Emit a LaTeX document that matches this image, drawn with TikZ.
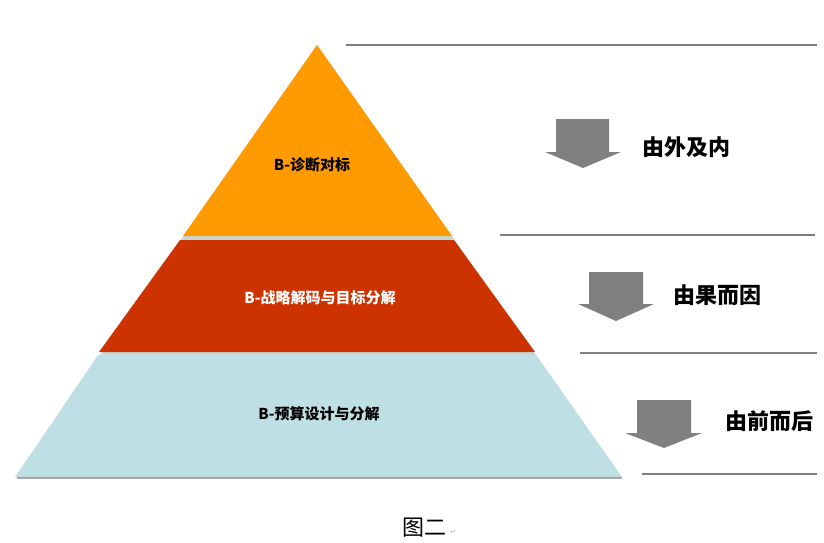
\documentclass[tikz,border=0pt]{standalone}
\usepackage{fontspec}
\newfontfamily\cjk{Noto Sans CJK SC}
\newfontfamily\symf{DejaVu Sans}
\definecolor{porange}{HTML}{FF9A00}
\definecolor{pred}{HTML}{CC3300}
\definecolor{pblue}{HTML}{BEDFE3}
\definecolor{pgap}{HTML}{C4D8DA}
\definecolor{agray}{HTML}{808080}
\definecolor{lgray}{HTML}{7F7F7F}
\tikzset{
  band/.style={draw=none},
  rule/.style={draw=lgray, line width=1.6pt},
  blockarrow/.style={fill=agray, draw=none},
  bandlabel/.style={font=\cjk\bfseries\fontsize{15}{17}\selectfont, inner sep=0pt},
  sidelabel/.style={font=\cjk\bfseries\fontsize{22}{24}\selectfont, inner sep=0pt, anchor=west},
}
\begin{document}
\begin{tikzpicture}[x=1pt,y=-1pt]
\useasboundingbox (0,0) rectangle (824,542);
% pyramid background (gaps)
\fill[pgap] (317,45) -- (622,477) -- (15,477) -- cycle;
% shadow under base
\draw[line width=1.2pt, draw=gray!70] (17,478) -- (622,478);
% bands
\fill[band, porange] (317,45) -- (452,236) -- (183,236) -- cycle;
\fill[band, pred] (180,240) -- (454,240) -- (535,352) -- (99,352) -- cycle;
\fill[band, pblue] (98,355) -- (536,355) -- (621,476) -- (16,476) -- cycle;
% band labels
\node[bandlabel, text=black] (l1) at (312,165) {B-诊断对标};
\node[bandlabel, text=white] (l2) at (320,298) {B-战略解码与目标分解};
\node[bandlabel, text=black] (l3) at (319,414) {B-预算设计与分解};
% right rules
\draw[rule] (346,45) -- (817,45);
\draw[rule] (500,235) -- (815,235);
\draw[rule] (580,353) -- (817,353);
\draw[rule] (642,474) -- (817,474);
% block arrows
\fill[blockarrow] (556,119) -- (609,119) -- (609,152) -- (621,152) -- (583,168) -- (545,152) -- (556,152) -- cycle;
\fill[blockarrow] (589,272) -- (643,272) -- (643,304) -- (654,304) -- (616,321) -- (578,304) -- (589,304) -- cycle;
\fill[blockarrow] (637,400) -- (691,400) -- (691,433) -- (702,433) -- (664,448) -- (625,433) -- (637,433) -- cycle;
% side labels
\node[sidelabel] (s1) at (642,147) {由外及内};
\node[sidelabel] (s2) at (673,295) {由果而因};
\node[sidelabel] (s3) at (725,421) {由前而后};
% caption
\node[font=\cjk\fontsize{22}{24}\selectfont, inner sep=0pt] (cap) at (424,528) {图二};
\node[font=\symf\fontsize{7}{8}\selectfont, text=gray!60, inner sep=0pt, anchor=west] (ret) at (450,532) {↵};
\end{tikzpicture}
\end{document}
